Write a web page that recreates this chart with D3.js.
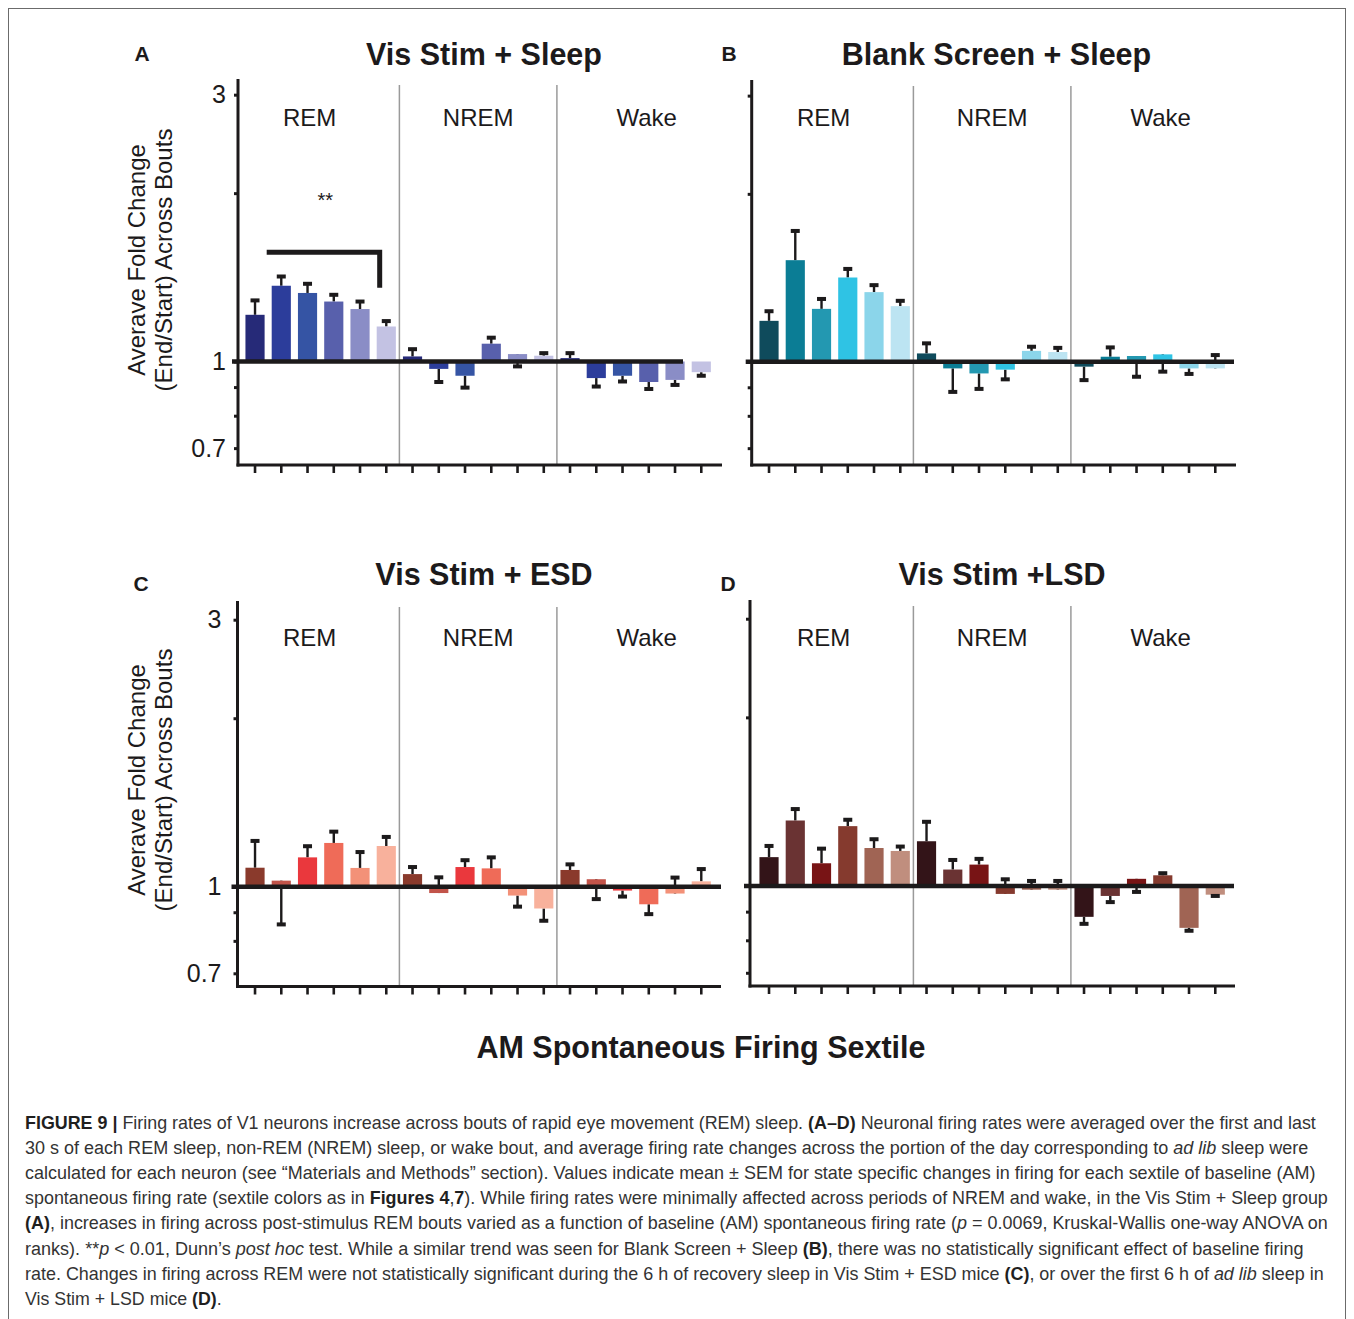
<!DOCTYPE html>
<html>
<head>
<meta charset="utf-8">
<script src="https://cdn.jsdelivr.net/npm/d3@7"></script>
<style>
  body { margin: 0; background: #fff; }
  svg { display: block; font-family: "Liberation Sans", Arial, Helvetica, sans-serif; }
</style>
</head>
<body>
<svg id="fig" width="1354" height="1319"></svg>
<script>
// ---------------- DATA ----------------
const states = ["REM", "NREM", "Wake"];
const sextiles = [1, 2, 3, 4, 5, 6];
const categories = states.flatMap(s => sextiles.map(k => s + " " + k));
const yTickValues = [0.7, 0.8, 0.9, 1, 2, 3];
const yTickLabels = [0.7, 1, 3];

// mean fold change (End/Start) per state x sextile
const visStimSleepMean = [1.212, 1.366, 1.326, 1.280, 1.241, 1.155,
                          1.021, 0.970, 0.943, 1.076, 1.031, 1.024,
                          1.014, 0.934, 0.943, 0.919, 0.927, 0.957];
// end of SEM error bar
const visStimSleepErr  = [1.286, 1.419, 1.377, 1.316, 1.280, 1.181,
                          1.052, 0.919, 0.898, 1.103, 0.980, 1.035,
                          1.035, 0.902, 0.921, 0.893, 0.908, 0.943];

const blankSleepMean = [1.184, 1.521, 1.244, 1.416, 1.333, 1.258,
                        1.035, 0.973, 0.953, 0.968, 1.046, 1.041,
                        0.980, 1.021, 1.024, 1.031, 0.973, 0.973];
const blankSleepErr  = [1.232, 1.716, 1.296, 1.467, 1.372, 1.286,
                        1.079, 0.883, 0.894, 0.930, 1.064, 1.059,
                        0.927, 1.061, 0.940, 0.960, 0.951, 1.028];

const visStimEsdMean = [1.081, 1.025, 1.128, 1.197, 1.080, 1.182,
                        1.053, 0.974, 1.084, 1.078, 0.964, 0.914,
                        1.071, 1.031, 0.984, 0.930, 0.972, 1.022];
const visStimEsdErr  = [1.207, 0.856, 1.181, 1.254, 1.153, 1.227,
                        1.084, 1.039, 1.115, 1.128, 0.921, 0.869,
                        1.096, 0.950, 0.960, 0.893, 1.038, 1.075];

const visStimLsdMean = [1.126, 1.309, 1.098, 1.279, 1.169, 1.155,
                        1.202, 1.070, 1.092, 0.968, 0.985, 0.985,
                        0.881, 0.960, 1.030, 1.045, 0.842, 0.965];
const visStimLsdErr  = [1.179, 1.372, 1.166, 1.313, 1.212, 1.176,
                        1.302, 1.113, 1.118, 1.028, 1.021, 1.021,
                        0.856, 0.936, 0.976, 1.054, 0.832, 0.960];

const blueColors  = ["#262a78", "#2c3d9b", "#3554a4", "#5860ac", "#8a8dc6", "#c3c2e3"];
const tealColors  = ["#0f4b5c", "#0b7d95", "#2398b1", "#2fc3e4", "#8bd5ea", "#bce4f2"];
const redColors   = ["#8a3a2c", "#c2544a", "#ea383d", "#ef6b58", "#f39178", "#f8b19c"];
const brownColors = ["#331418", "#6a3333", "#781415", "#853a2e", "#a06454", "#c08e7e"];

const panelTitles = ["Vis Stim + Sleep", "Blank Screen + Sleep", "Vis Stim + ESD", "Vis Stim +LSD"];
const panelLetters = ["A", "B", "C", "D"];
const yAxisTitle = ["Averave Fold Change", "(End/Start) Across Bouts"];
const xAxisTitle = "AM Spontaneous Firing Sextile";
const sigLabel = "**";
// significance bracket (panel A), in data units
const sigBracket = { from: 1, to: 5, y: 1.568, drop: 1.355, starY: 1.962 };

// ---------------- LAYOUT ----------------
const panels = [
  { mean: visStimSleepMean, err: visStimSleepErr, colors: blueColors,
    x0: 241.9, x1: 714.4, axisX: 238, axisEnd: 722, yTop: 79, yBottom: 465, domain: [0.653, 3.2],
    baseEnd: 683, titleX: 484, titleY: 65, letterX: 142, letterY: 61, labelY: 126, yLabels: true, tickPad: 8, yLabelCY: 260, sig: true },
  { mean: blankSleepMean, err: blankSleepErr, colors: tealColors,
    x0: 755.9, x1: 1228.4, axisX: 751.7, axisEnd: 1236, yTop: 80, yBottom: 465, domain: [0.653, 3.2],
    baseEnd: 1234, titleX: 996.5, titleY: 65, letterX: 729, letterY: 61, labelY: 126, yLabels: false, tickPad: 8 },
  { mean: visStimEsdMean, err: visStimEsdErr, colors: redColors,
    x0: 241.9, x1: 714.4, axisX: 237.5, axisEnd: 721, yTop: 601, yBottom: 986.5, domain: [0.663, 3.24],
    baseEnd: 721, titleX: 484, titleY: 585, letterX: 141, letterY: 591, labelY: 646, yLabels: true, tickPad: 12, yLabelCY: 780 },
  { mean: visStimLsdMean, err: visStimLsdErr, colors: brownColors,
    x0: 755.9, x1: 1228.4, axisX: 750, axisEnd: 1235, yTop: 600, yBottom: 986, domain: [0.663, 3.24],
    baseEnd: 1234, titleX: 1002, titleY: 585, letterX: 728, letterY: 591, labelY: 646, yLabels: false, tickPad: 8 }
];
const labelOffsets = [-11, 0, 11];
const ink = "#1c1a1b";

const svg = d3.select("#fig");

// frame
svg.append("rect").attr("x", 8.5).attr("y", 8.5).attr("width", 1337).attr("height", 1330)
  .attr("fill", "none").attr("stroke", "#6b6b6b").attr("stroke-width", 1);

panels.forEach((p, pi) => {
  const g = svg.append("g");
  const x = d3.scaleBand().domain(categories).range([p.x0, p.x1]).paddingInner(0.27).paddingOuter(0.135);
  const y = d3.scaleLog().domain(p.domain).range([p.yBottom, p.yTop]);
  const bw = x.bandwidth();
  const cx = c => x(c) + bw / 2;

  // separators
  [5, 11].forEach(i => {
    const sx = (cx(categories[i]) + cx(categories[i + 1])) / 2;
    g.append("line").attr("x1", sx).attr("x2", sx).attr("y1", p.yTop + 6).attr("y2", p.yBottom)
      .attr("stroke", "#9a9a9a").attr("stroke-width", 1.5);
  });

  // error lines (behind bars)
  g.append("g").selectAll("line").data(categories).join("line")
    .attr("x1", c => cx(c)).attr("x2", c => cx(c))
    .attr("y1", (c, i) => y(p.mean[i])).attr("y2", (c, i) => y(p.err[i]))
    .attr("stroke", ink).attr("stroke-width", 2.4);

  // bars
  g.append("g").selectAll("rect").data(categories).join("rect")
    .attr("x", c => x(c)).attr("width", bw)
    .attr("y", (c, i) => Math.min(y(p.mean[i]), y(1)))
    .attr("height", (c, i) => Math.abs(y(p.mean[i]) - y(1)))
    .attr("fill", (c, i) => p.colors[i % 6]);

  // error caps
  g.append("g").selectAll("rect").data(categories).join("rect")
    .attr("x", c => cx(c) - 4.5).attr("width", 9)
    .attr("y", (c, i) => y(p.err[i]) - 2).attr("height", 4)
    .attr("fill", ink);

  // baseline at fold change 1
  g.append("line").attr("x1", p.axisX - 6).attr("x2", p.baseEnd)
    .attr("y1", y(1)).attr("y2", y(1)).attr("stroke", ink).attr("stroke-width", 4.5);

  // x axis ticks
  const xAxis = g.append("g").attr("transform", `translate(0,${p.yBottom})`)
    .call(d3.axisBottom(x).tickSize(8).tickSizeOuter(0).tickFormat(""));
  xAxis.select(".domain").remove();
  xAxis.selectAll(".tick line").attr("stroke", ink).attr("stroke-width", 2.6);
  g.append("line").attr("x1", p.axisX - 1.5).attr("x2", p.axisEnd).attr("y1", p.yBottom).attr("y2", p.yBottom)
    .attr("stroke", ink).attr("stroke-width", 3);

  // y axis
  const yAxis = g.append("g").attr("transform", `translate(${p.axisX},0)`)
    .call(d3.axisLeft(y).tickValues(yTickValues).tickSize(4).tickPadding(p.tickPad)
      .tickFormat(d => (p.yLabels && yTickLabels.includes(d)) ? d3.format("")(d) : ""));
  yAxis.select(".domain").remove();
  yAxis.selectAll(".tick line").attr("stroke", ink).attr("stroke-width", 3);
  yAxis.selectAll(".tick text").attr("fill", ink).style("font-size", "25px")
    .style("font-family", "'Liberation Sans', Arial, sans-serif");
  g.append("line").attr("x1", p.axisX).attr("x2", p.axisX).attr("y1", p.yTop).attr("y2", p.yBottom + 1.5)
    .attr("stroke", ink).attr("stroke-width", 3);

  // state labels
  states.forEach((s, si) => {
    const c0 = cx(categories[si * 6]), c1 = cx(categories[si * 6 + 5]);
    g.append("text").attr("x", (c0 + c1) / 2 + labelOffsets[si]).attr("y", p.labelY)
      .attr("text-anchor", "middle").attr("fill", ink).style("font-size", "24px").text(s);
  });

  // title & letter
  g.append("text").attr("x", p.titleX).attr("y", p.titleY).attr("text-anchor", "middle")
    .attr("fill", ink).style("font-size", "30.5px").style("font-weight", "bold").text(panelTitles[pi]);
  g.append("text").attr("x", p.letterX).attr("y", p.letterY).attr("text-anchor", "middle")
    .attr("fill", ink).style("font-size", "21px").style("font-weight", "bold").text(panelLetters[pi]);

  // y axis title
  if (p.yLabels) {
    [145, 172].forEach((bx, li) => {
      g.append("text").attr("transform", `translate(${bx},${p.yLabelCY}) rotate(-90)`)
        .attr("text-anchor", "middle").attr("fill", ink).style("font-size", "24px").text(yAxisTitle[li]);
    });
  }

  // significance bracket
  if (p.sig) {
    const bxL = x(categories[sigBracket.from]) - 5;
    const bxR = x(categories[sigBracket.to]) + 3;
    g.append("path")
      .attr("d", `M${bxL},${y(sigBracket.y)} H${bxR} V${y(sigBracket.drop)}`)
      .attr("fill", "none").attr("stroke", ink).attr("stroke-width", 5);
    g.append("text").attr("x", (bxL + bxR) / 2 + 2).attr("y", y(sigBracket.starY) + 9)
      .attr("text-anchor", "middle").attr("fill", ink).style("font-size", "20px").text(sigLabel);
  }
});

// x axis title
svg.append("text").attr("x", 701).attr("y", 1058).attr("text-anchor", "middle")
  .attr("fill", ink).style("font-size", "30.5px").style("font-weight", "bold").text(xAxisTitle);

// ---------------- CAPTION ----------------
const captionLines = [
  [["FIGURE 9 | ", "b"], ["Firing rates of V1 neurons increase across bouts of rapid eye movement (REM) sleep. ", ""], ["(A–D)", "b"], [" Neuronal firing rates were averaged over the first and last", ""]],
  [["30 s of each REM sleep, non-REM (NREM) sleep, or wake bout, and average firing rate changes across the portion of the day corresponding to ", ""], ["ad lib", "i"], [" sleep were", ""]],
  [["calculated for each neuron (see “Materials and Methods” section). Values indicate mean ± SEM for state specific changes in firing for each sextile of baseline (AM)", ""]],
  [["spontaneous firing rate (sextile colors as in ", ""], ["Figures 4", "b"], [",", ""], ["7", "b"], ["). While firing rates were minimally affected across periods of NREM and wake, in the Vis Stim + Sleep group", ""]],
  [["(A)", "b"], [", increases in firing across post-stimulus REM bouts varied as a function of baseline (AM) spontaneous firing rate (", ""], ["p", "i"], [" = 0.0069, Kruskal-Wallis one-way ANOVA on", ""]],
  [["ranks). **", ""], ["p", "i"], [" < 0.01, Dunn’s ", ""], ["post hoc", "i"], [" test. While a similar trend was seen for Blank Screen + Sleep ", ""], ["(B)", "b"], [", there was no statistically significant effect of baseline firing", ""]],
  [["rate. Changes in firing across REM were not statistically significant during the 6 h of recovery sleep in Vis Stim + ESD mice ", ""], ["(C)", "b"], [", or over the first 6 h of ", ""], ["ad lib", "i"], [" sleep in", ""]],
  [["Vis Stim + LSD mice ", ""], ["(D)", "b"], [".", ""]]
];
const captionEnds = [1316, 1309, 1316, 1329, 1329, 1304, 1324, 222];
const capX = 25, capY0 = 1129, capStep = 25.1;

captionLines.forEach((segs, li) => {
  const t = svg.append("text").attr("x", 0).attr("y", 0)
    .attr("fill", "#333").style("font-size", "18px");
  segs.forEach(([txt, st]) => {
    const ts = t.append("tspan").text(txt);
    if (st === "b") ts.style("font-weight", "bold").attr("fill", "#1f1f1f");
    if (st === "i") ts.style("font-style", "italic");
  });
  const natural = t.node().getComputedTextLength();
  const k = (captionEnds[li] - capX) / natural;
  t.attr("transform", `translate(${capX},${capY0 + li * capStep}) scale(${k},1)`);
});
</script>
</body>
</html>
